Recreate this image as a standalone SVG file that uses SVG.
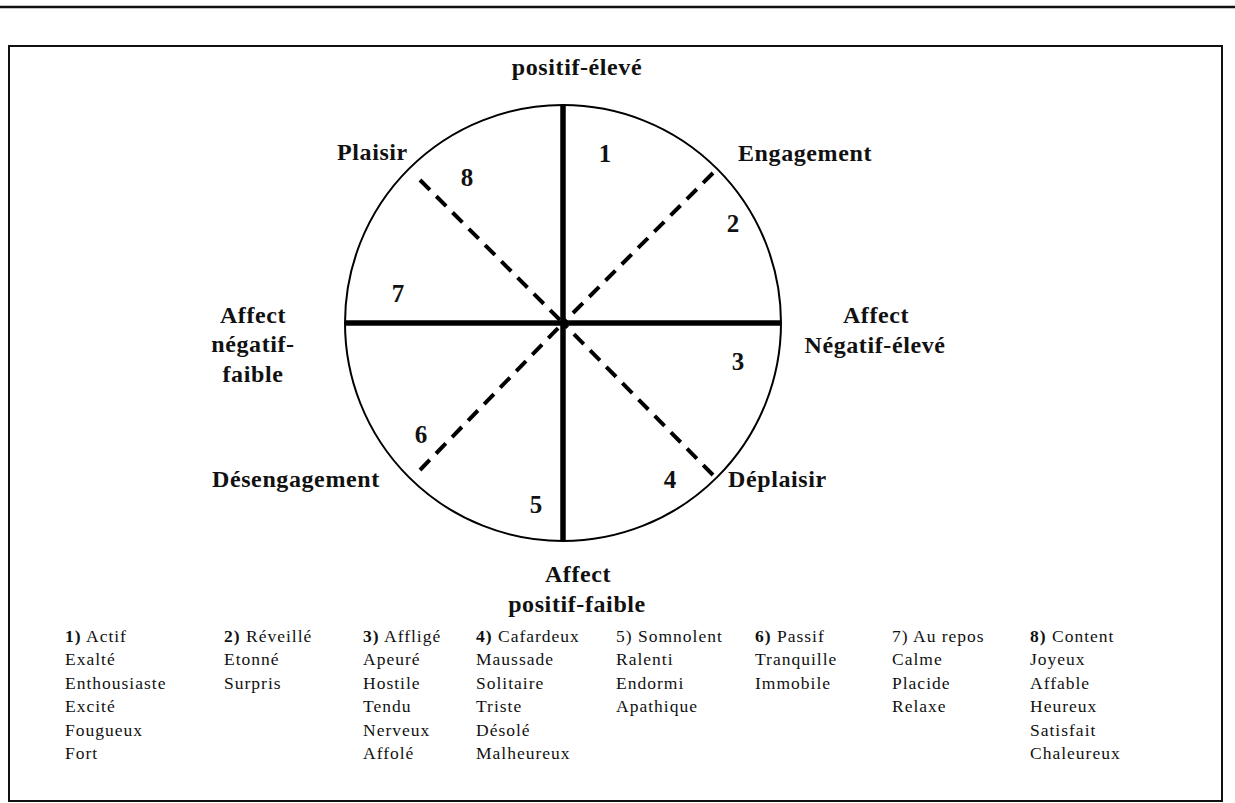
<svg xmlns="http://www.w3.org/2000/svg" width="1235" height="803" viewBox="0 0 1235 803">
<style>
.lbl{font-family:"Liberation Serif","Times New Roman",serif;font-weight:bold;font-size:24px;fill:#111;letter-spacing:0.6px}
.num{font-family:"Liberation Serif","Times New Roman",serif;font-weight:bold;font-size:25px;fill:#111}
.leg{font-family:"Liberation Serif","Times New Roman",serif;font-size:17.5px;fill:#111;letter-spacing:1px}
.b{font-weight:bold}
.solid{stroke:#000;stroke-width:5.5;fill:none}
.dash{stroke:#000;stroke-width:4;fill:none;stroke-dasharray:14 9}
</style>
<rect width="1235" height="803" fill="#fff"/>
<line x1="0" y1="7" x2="1235" y2="7" stroke="#111" stroke-width="2.5"/>
<rect x="9" y="46" width="1213" height="755" fill="none" stroke="#111" stroke-width="2"/>
<g id="circle">
<circle cx="563" cy="323" r="218" fill="none" stroke="#000" stroke-width="2"/>
</g>
<g id="connectors">
<line class="solid" x1="563" y1="105" x2="563" y2="541"/>
<line class="solid" x1="345" y1="323" x2="781" y2="323"/>
<line class="dash" x1="713" y1="173" x2="563" y2="323"/>
<line class="dash" x1="420" y1="180" x2="563" y2="323"/>
<line class="dash" x1="713" y1="475" x2="563" y2="323"/>
<line class="dash" x1="420" y1="470" x2="563" y2="323"/>
</g>
<g id="label-top"><text class="lbl" x="577" y="75" text-anchor="middle">positif-élevé</text></g>
<g id="label-plaisir"><text class="lbl" x="337" y="160">Plaisir</text></g>
<g id="label-engagement"><text class="lbl" x="738" y="161">Engagement</text></g>
<g id="label-left"><text class="lbl" text-anchor="middle"><tspan x="253" y="323">Affect</tspan><tspan x="253" y="352">négatif-</tspan><tspan x="253" y="382">faible</tspan></text></g>
<g id="label-right"><text class="lbl" text-anchor="middle"><tspan x="876" y="323">Affect</tspan><tspan x="875" y="353">Négatif-élevé</tspan></text></g>
<g id="label-desengagement"><text class="lbl" x="212" y="487">Désengagement</text></g>
<g id="label-deplaisir"><text class="lbl" x="728" y="487">Déplaisir</text></g>
<g id="label-bottom"><text class="lbl" text-anchor="middle"><tspan x="578" y="582">Affect</tspan><tspan x="577" y="612">positif-faible</tspan></text></g>
<g id="numbers">
<text class="num" x="605" y="162" text-anchor="middle">1</text>
<text class="num" x="733" y="232" text-anchor="middle">2</text>
<text class="num" x="738" y="370" text-anchor="middle">3</text>
<text class="num" x="670" y="488" text-anchor="middle">4</text>
<text class="num" x="536" y="513" text-anchor="middle">5</text>
<text class="num" x="421" y="443" text-anchor="middle">6</text>
<text class="num" x="398" y="302" text-anchor="middle">7</text>
<text class="num" x="467" y="186" text-anchor="middle">8</text>
</g>
<g id="legend">
<text class="leg"><tspan x="65" y="642"><tspan class="b">1)</tspan> Actif</tspan><tspan x="65" y="665.4">Exalté</tspan><tspan x="65" y="688.8">Enthousiaste</tspan><tspan x="65" y="712.2">Excité</tspan><tspan x="65" y="735.6">Fougueux</tspan><tspan x="65" y="759">Fort</tspan></text>
<text class="leg"><tspan x="224" y="642"><tspan class="b">2)</tspan> Réveillé</tspan><tspan x="224" y="665.4">Etonné</tspan><tspan x="224" y="688.8">Surpris</tspan></text>
<text class="leg"><tspan x="363" y="642"><tspan class="b">3)</tspan> Affligé</tspan><tspan x="363" y="665.4">Apeuré</tspan><tspan x="363" y="688.8">Hostile</tspan><tspan x="363" y="712.2">Tendu</tspan><tspan x="363" y="735.6">Nerveux</tspan><tspan x="363" y="759">Affolé</tspan></text>
<text class="leg"><tspan x="476" y="642"><tspan class="b">4)</tspan> Cafardeux</tspan><tspan x="476" y="665.4">Maussade</tspan><tspan x="476" y="688.8">Solitaire</tspan><tspan x="476" y="712.2">Triste</tspan><tspan x="476" y="735.6">Désolé</tspan><tspan x="476" y="759">Malheureux</tspan></text>
<text class="leg"><tspan x="616" y="642">5) Somnolent</tspan><tspan x="616" y="665.4">Ralenti</tspan><tspan x="616" y="688.8">Endormi</tspan><tspan x="616" y="712.2">Apathique</tspan></text>
<text class="leg"><tspan x="755" y="642"><tspan class="b">6)</tspan> Passif</tspan><tspan x="755" y="665.4">Tranquille</tspan><tspan x="755" y="688.8">Immobile</tspan></text>
<text class="leg"><tspan x="892" y="642">7) Au repos</tspan><tspan x="892" y="665.4">Calme</tspan><tspan x="892" y="688.8">Placide</tspan><tspan x="892" y="712.2">Relaxe</tspan></text>
<text class="leg"><tspan x="1030" y="642"><tspan class="b">8)</tspan> Content</tspan><tspan x="1030" y="665.4">Joyeux</tspan><tspan x="1030" y="688.8">Affable</tspan><tspan x="1030" y="712.2">Heureux</tspan><tspan x="1030" y="735.6">Satisfait</tspan><tspan x="1030" y="759">Chaleureux</tspan></text>
</g>
</svg>
